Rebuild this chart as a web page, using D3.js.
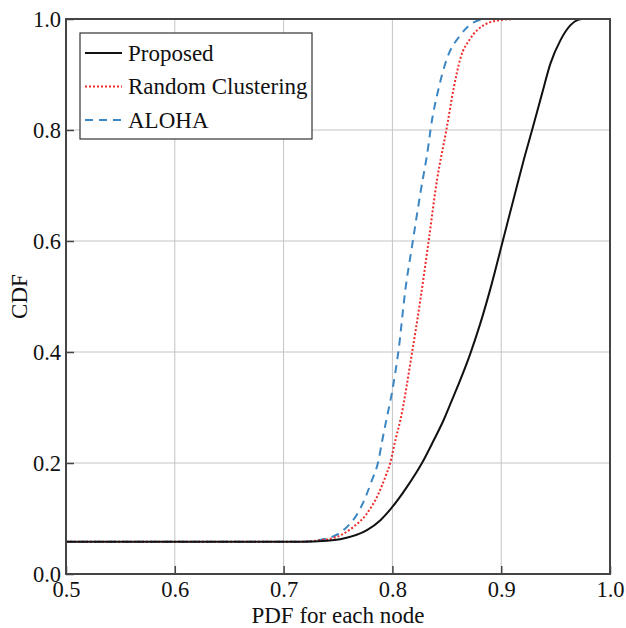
<html>
<head>
  <meta charset="utf-8">
  <title>CDF chart</title>
  <script src="https://cdn.jsdelivr.net/npm/d3@7"></script>
  <style>
    body { margin: 0; background: #fff; }
    text { font-family: "Liberation Serif", "DejaVu Serif", serif; fill: #111; }
  </style>
</head>
<body>
  <svg id="chart" width="626" height="628"></svg>
  <script>
    // values
    var seriesNames = ["Proposed", "Random Clustering", "ALOHA"];

    var proposedX = [0.5, 0.715, 0.74, 0.755, 0.7766, 0.789, 0.7996, 0.8134, 0.8272, 0.838, 0.847, 0.853, 0.8717, 0.8809, 0.8916, 0.9008, 0.9146, 0.9207, 0.9284, 0.9376, 0.9453, 0.9545, 0.9637, 0.970, 0.975, 1.0];
    var proposedY = [0.058, 0.058, 0.060, 0.064, 0.079, 0.097, 0.120, 0.157, 0.200, 0.241, 0.277, 0.305, 0.3976, 0.452, 0.525, 0.595, 0.700, 0.746, 0.800, 0.866, 0.920, 0.962, 0.989, 0.998, 1.0, 1.0];

    var randomX = [0.5, 0.715, 0.7337, 0.749, 0.7643, 0.7766, 0.7873, 0.7935, 0.798, 0.8027, 0.8073, 0.818, 0.8257, 0.8333, 0.841, 0.8496, 0.8563, 0.8625, 0.8717, 0.884, 0.899, 0.914, 1.0];
    var randomY = [0.058, 0.058, 0.061, 0.067, 0.085, 0.109, 0.145, 0.175, 0.200, 0.241, 0.277, 0.398, 0.494, 0.600, 0.710, 0.800, 0.875, 0.929, 0.965, 0.989, 0.998, 1.0, 1.0];

    var alohaX = [0.5, 0.715, 0.7398, 0.755, 0.7705, 0.7812, 0.7873, 0.7904, 0.7944, 0.8005, 0.8057, 0.8119, 0.818, 0.8257, 0.8333, 0.835, 0.8425, 0.8502, 0.8625, 0.8747, 0.887, 1.0];
    var alohaY = [0.058, 0.058, 0.064, 0.079, 0.118, 0.169, 0.205, 0.238, 0.277, 0.337, 0.404, 0.512, 0.590, 0.686, 0.775, 0.800, 0.875, 0.929, 0.971, 0.994, 1.0, 1.0];

    var xTicks = [0.5, 0.6, 0.7, 0.8, 0.9, 1.0];
    var yTicks = [0.0, 0.2, 0.4, 0.6, 0.8, 1.0];

    var margin = { top: 19, right: 16, bottom: 54, left: 66 },
      width = 626 - margin.left - margin.right,
      height = 628 - margin.top - margin.bottom;

    var svg = d3.select("#chart");
    var chart = svg.append("g")
      .attr("transform", "translate(" + margin.left + "," + margin.top + ")");

    var xScale = d3.scaleLinear().domain([0.5, 1.0]).range([0, width]);
    var yScale = d3.scaleLinear().domain([0, 1]).range([height, 0]);

    // grid
    chart.append("g")
      .selectAll("line")
      .data(xTicks.slice(1, -1))
      .enter().append("line")
      .attr("x1", d => xScale(d)).attr("x2", d => xScale(d))
      .attr("y1", 0).attr("y2", height)
      .attr("stroke", "#c4c4c4").attr("stroke-width", 1);
    chart.append("g")
      .selectAll("line")
      .data(yTicks.slice(1, -1))
      .enter().append("line")
      .attr("x1", 0).attr("x2", width)
      .attr("y1", d => yScale(d)).attr("y2", d => yScale(d))
      .attr("stroke", "#c4c4c4").attr("stroke-width", 1);

    // axes, ticks pointing inside
    var xAxis = chart.append("g")
      .attr("transform", "translate(0," + height + ")")
      .call(d3.axisBottom(xScale).tickValues(xTicks).tickFormat(d3.format(".1f"))
        .tickSizeInner(-8).tickSizeOuter(0).tickPadding(7));
    var yAxis = chart.append("g")
      .call(d3.axisLeft(yScale).tickValues(yTicks).tickFormat(d3.format(".1f"))
        .tickSizeInner(-8).tickSizeOuter(0).tickPadding(5));

    [xAxis, yAxis].forEach(function (a) {
      a.select(".domain").remove();
      a.selectAll(".tick line").attr("stroke", "#444").attr("stroke-width", 1.5);
      a.selectAll(".tick text").style("font-size", "22.5px").attr("fill", "#111")
        .style("font-family", "'Liberation Serif', serif");
    });

    // lines
    var line = d3.line()
      .x(d => xScale(d[0]))
      .y(d => yScale(d[1]))
      .curve(d3.curveMonotoneX);

    var series = [
      { name: seriesNames[0], xs: proposedX, ys: proposedY, color: "#111", dash: null },
      { name: seriesNames[1], xs: randomX, ys: randomY, color: "#ee2a2a", dash: "2,2" },
      { name: seriesNames[2], xs: alohaX, ys: alohaY, color: "#3c86c4", dash: "8,6" }
    ];

    // draw in reverse so Proposed ends up on top
    series.slice().reverse().forEach(function (s) {
      var pts = s.xs.map((x, i) => [x, s.ys[i]]);
      chart.append("path")
        .datum(pts)
        .attr("fill", "none")
        .attr("stroke", s.color)
        .attr("stroke-width", 2)
        .attr("stroke-dasharray", s.dash)
        .attr("d", line);
    });

    // frame
    chart.append("rect")
      .attr("x", 0).attr("y", 0)
      .attr("width", width).attr("height", height)
      .attr("fill", "none").attr("stroke", "#444").attr("stroke-width", 2);

    // legend
    var legend = chart.append("g").attr("transform", "translate(14,14)");
    legend.append("rect")
      .attr("x", 0).attr("y", 0).attr("width", 232).attr("height", 106)
      .attr("fill", "#fff").attr("stroke", "#333").attr("stroke-width", 1.2);
    series.forEach(function (s, i) {
      var cy = 20 + i * 33.5;
      legend.append("line")
        .attr("x1", 5).attr("x2", 42).attr("y1", cy).attr("y2", cy)
        .attr("stroke", s.color).attr("stroke-width", 2)
        .attr("stroke-dasharray", s.dash);
      legend.append("text")
        .attr("x", 48).attr("y", cy + 7.5)
        .style("font-size", "23px")
        .text(s.name);
    });

    // axis titles
    svg.append("text")
      .attr("x", margin.left + width / 2).attr("y", 623)
      .attr("text-anchor", "middle")
      .style("font-size", "23px")
      .text("PDF for each node");
    svg.append("text")
      .attr("transform", "translate(27," + (margin.top + height / 2) + ") rotate(-90)")
      .attr("text-anchor", "middle")
      .style("font-size", "23px")
      .text("CDF");
  </script>
</body>
</html>
